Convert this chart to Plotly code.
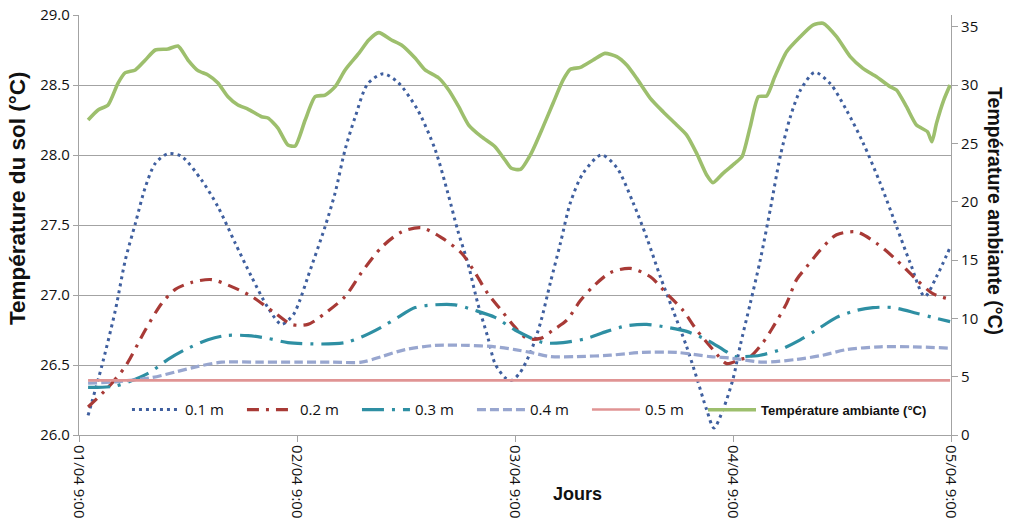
import plotly.graph_objects as go

# ---- data (hours since 01/04 9:00) ----
tick_hours = [0, 24, 48, 72, 96]
tick_labels = ["01/04 9:00", "02/04 9:00", "03/04 9:00", "04/04 9:00", "05/04 9:00"]

h_01 = [1.0, 2.5, 4.0, 5.1, 6.2, 7.3, 8.4, 9.8, 11.3, 13.5, 15.3, 17.2, 19.0, 20.8, 22.3, 23.6, 24.3, 25.2,
        27.1, 28.2, 29.3, 30.4, 31.8, 33.5, 35.1, 37.3, 39.2, 40.6, 41.7, 42.8, 43.9, 45.0, 45.8, 46.9,
        47.6, 48.5, 49.7, 50.8, 51.9, 53.0, 54.1, 55.5, 57.5, 59.2, 61.0, 62.5, 64.0, 65.4, 66.9, 68.0,
        69.1, 69.9, 70.9, 72.0, 72.8, 73.9, 75.0, 76.1, 77.2, 78.3, 79.4, 81.0, 82.7, 84.5, 86.3, 88.2,
        90.0, 91.5, 93.1, 94.4, 95.9]
t_01 = [26.14, 26.49, 26.89, 27.25, 27.51, 27.77, 27.94, 28.01, 27.99, 27.82, 27.63, 27.37, 27.13, 26.91,
        26.79, 26.86, 26.96, 27.13, 27.49, 27.73, 28.04, 28.27, 28.51, 28.58, 28.52, 28.32, 28.04, 27.73,
        27.46, 27.23, 26.94, 26.70, 26.51, 26.41, 26.39, 26.44, 26.59, 26.80, 27.09, 27.37, 27.66, 27.87,
        28.00, 27.91, 27.66, 27.41, 27.13, 26.89, 26.63, 26.41, 26.18, 26.05, 26.18, 26.40, 26.64, 26.94,
        27.25, 27.61, 27.99, 28.27, 28.46, 28.59, 28.51, 28.32, 28.09, 27.80, 27.49, 27.23, 26.99, 27.13,
        27.34]

h_02 = [1.0, 3.2, 5.1, 7.3, 9.1, 10.6, 12.4, 14.6, 16.8, 19.0, 21.6, 23.4, 25.2, 27.1, 29.3, 31.1, 33.3,
        35.5, 37.7, 39.9, 42.1, 43.6, 45.0, 46.5, 48.0, 49.3, 50.8, 52.2, 53.7, 55.2, 56.6, 58.5, 60.7,
        62.9, 64.7, 66.5, 68.0, 69.8, 71.3, 72.8, 73.9, 75.3, 76.4, 77.9, 79.0, 80.1, 81.6, 83.4, 85.6,
        87.8, 90.0, 92.2, 94.0, 95.9]
t_02 = [26.20, 26.34, 26.49, 26.75, 26.94, 27.04, 27.09, 27.11, 27.06, 26.99, 26.87, 26.79, 26.79, 26.87,
        26.99, 27.16, 27.34, 27.45, 27.48, 27.41, 27.30, 27.16, 27.01, 26.89, 26.77, 26.69, 26.69, 26.75,
        26.82, 26.96, 27.06, 27.16, 27.19, 27.13, 27.01, 26.89, 26.75, 26.61, 26.51, 26.54, 26.56, 26.66,
        26.77, 26.94, 27.11, 27.20, 27.32, 27.43, 27.45, 27.37, 27.25, 27.11, 27.01, 26.97]

h_03 = [1.0, 4.0, 7.6, 9.8, 11.7, 14.2, 16.1, 18.6, 20.8, 23.0, 26.7, 29.3, 31.1, 33.3, 35.1, 37.0, 39.2,
        41.4, 43.6, 45.8, 48.0, 51.1, 53.3, 55.9, 58.1, 60.3, 62.5, 64.7, 66.9, 69.1, 70.9, 72.2, 73.1,
        75.0, 77.2, 79.4, 81.2, 83.4, 85.6, 87.4, 89.6, 92.2, 94.0, 95.9]
t_03 = [26.34, 26.35, 26.44, 26.54, 26.61, 26.68, 26.71, 26.71, 26.69, 26.66, 26.65, 26.66, 26.70, 26.77,
        26.84, 26.91, 26.93, 26.93, 26.89, 26.84, 26.75, 26.66, 26.66, 26.69, 26.74, 26.78, 26.79, 26.77,
        26.74, 26.68, 26.61, 26.56, 26.56, 26.57, 26.61, 26.68, 26.75, 26.84, 26.89, 26.91, 26.91, 26.87,
        26.84, 26.81]

h_04 = [1.0, 4.0, 8.0, 10.6, 13.1, 15.7, 20.0, 24.3, 28.0, 31.1, 33.3, 35.9, 39.2, 42.8, 45.8, 48.0, 49.7,
        51.9, 54.8, 58.5, 62.1, 65.8, 69.5, 71.7, 72.8, 75.3, 79.0, 81.9, 84.5, 88.2, 91.8, 95.9]
t_04 = [26.37, 26.38, 26.41, 26.45, 26.49, 26.52, 26.52, 26.52, 26.52, 26.52, 26.56, 26.61, 26.64, 26.64,
        26.63, 26.61, 26.59, 26.56, 26.56, 26.57, 26.59, 26.59, 26.56, 26.55, 26.54, 26.52, 26.54, 26.57,
        26.61, 26.63, 26.63, 26.62]

h_05 = [1.0, 95.9]
t_05 = [26.39, 26.39]

h_amb = [1.0, 2.1, 3.2, 4.3, 5.1, 6.2, 7.3, 8.4, 9.8, 10.9, 12.0, 13.1, 14.2, 15.3, 16.4, 17.5, 18.6, 20.1,
         20.8, 21.9, 23.0, 23.8, 24.9, 26.0, 27.1, 28.2, 29.3, 30.8, 31.9, 33.0, 34.4, 35.5, 37.0, 38.1,
         39.6, 40.7, 41.8, 42.9, 44.3, 45.8, 46.9, 47.6, 48.6, 49.8, 51.1, 52.2, 53.3, 54.1, 55.2, 56.6,
         57.9, 59.2, 60.3, 61.4, 62.9, 64.3, 65.8, 66.9, 68.0, 69.1, 69.8, 70.9, 72.2, 73.0, 73.9, 74.8,
         75.7, 76.6, 77.9, 79.4, 80.8, 81.9, 83.4, 84.9, 86.3, 87.8, 89.3, 90.0, 91.1, 92.2, 93.4, 93.9,
         94.4, 95.2, 95.9]
t_amb = [27.0, 27.86, 28.29, 30.17, 31.06, 31.29, 32.14, 33.0, 33.09, 33.34, 32.14, 31.23, 30.86, 30.17,
         29.0, 28.29, 27.94, 27.28, 27.17, 26.31, 24.86, 24.77, 27.0, 29.0, 29.14, 29.86, 31.29, 32.71,
         33.86, 34.49, 33.86, 33.43, 32.31, 31.29, 30.6, 29.57, 28.14, 26.57, 25.57, 24.71, 23.57, 22.86,
         22.77, 24.17, 26.43, 28.46, 30.43, 31.34, 31.51, 32.14, 32.71, 32.43, 31.71, 30.57, 28.86, 27.71,
         26.57, 25.71, 24.14, 22.29, 21.63, 22.43, 23.29, 23.86, 26.43, 29.0, 29.06, 30.71, 32.86, 34.14,
         35.14, 35.29, 34.14, 32.43, 31.43, 30.71, 29.86, 29.57, 28.14, 26.57, 26.0, 25.14, 26.71, 28.71,
         30.0]

names = ["0.1 m", "0.2 m", "0.3 m", "0.4 m", "0.5 m"]
amb_name = "Température ambiante (°C)"

GRID = "#a3a3a3"
TXT = "#111111"

fig = go.Figure()
soil = [
    (h_01, t_01, names[0], dict(color="#3f5f9f", width=3, dash="3px,4px")),
    (h_02, t_02, names[1], dict(color="#a83a36", width=3.2, dash="12px,7px,3px,7px")),
    (h_03, t_03, names[2], dict(color="#2e8fa3", width=3.2, dash="22px,8px,3px,8px")),
    (h_04, t_04, names[3], dict(color="#98a6cf", width=3.2, dash="9px,4px")),
    (h_05, t_05, names[4], dict(color="#e09494", width=2.6)),
]
for hx, ty, nm, ln in soil:
    fig.add_trace(go.Scatter(x=hx, y=ty, name=nm, mode="lines", legend="legend",
                             line=dict(shape="spline", smoothing=0.8, **ln)))
fig.add_trace(go.Scatter(x=h_amb, y=t_amb, name=amb_name, mode="lines", yaxis="y2", legend="legend2",
                         line=dict(color="#9dbf6d", width=3.6, shape="spline", smoothing=0.6)))

fig.update_layout(
    width=1010, height=528,
    margin=dict(l=79, r=59, t=15, b=93),
    plot_bgcolor="white", paper_bgcolor="white",
    font=dict(family="Open Sans", size=15, color=TXT),
    showlegend=True,
    legend=dict(orientation="h", x=0.055, xanchor="left", y=0.06, yanchor="middle",
                bgcolor="rgba(0,0,0,0)", font=dict(family="Open Sans", size=15, color=TXT),
                itemwidth=48, entrywidth=52),
    legend2=dict(orientation="h", x=0.7156, xanchor="left", y=0.06, yanchor="middle",
                 bgcolor="rgba(0,0,0,0)",
                 font=dict(family="Liberation Sans", size=13, color=TXT, weight="bold"),
                 itemwidth=48),
    xaxis=dict(range=[0, 96], tickvals=tick_hours, ticktext=tick_labels, tickangle=90, automargin=False,
               ticklabeloverflow="allow",
               showgrid=False, zeroline=False, showline=True, linecolor=GRID, linewidth=1.2,
               ticks="outside", ticklen=6, tickcolor=GRID,
               tickfont=dict(family="Open Sans", size=15, color=TXT)),
    yaxis=dict(range=[26, 29], tickvals=[26.0, 26.5, 27.0, 27.5, 28.0, 28.5, 29.0], tickformat=".1f",
               automargin=False, ticklabeloverflow="allow",
               showgrid=True, gridcolor=GRID, gridwidth=1.2, zeroline=False,
               showline=True, linecolor=GRID, linewidth=1.2, ticks="outside", ticklen=5, tickcolor=GRID,
               tickfont=dict(family="Open Sans", size=15, color=TXT)),
    yaxis2=dict(range=[0, 36], tickvals=[0, 5, 10, 15, 20, 25, 30, 35], overlaying="y", side="right",
                automargin=False, ticklabeloverflow="allow",
                showgrid=False, zeroline=False, showline=True, linecolor=GRID, linewidth=1.2,
                ticks="outside", ticklen=6, tickcolor=GRID,
                tickfont=dict(family="Open Sans", size=15, color=TXT)),
    annotations=[
        dict(text="<b>Température du sol (°C)</b>", xref="paper", yref="paper", x=-0.0711, y=0.564,
             xanchor="center", yanchor="middle",
             textangle=-90, showarrow=False, font=dict(family="Liberation Sans", size=22.5, color=TXT)),
        dict(text="<b>Température ambiante (°C)</b>", xref="paper", yref="paper", x=1.0505, y=0.533,
             xanchor="center", yanchor="middle",
             textangle=90, showarrow=False, font=dict(family="Liberation Sans", size=19.5, color=TXT)),
        dict(text="<b>Jours</b>", xref="paper", yref="paper", x=0.572, y=-0.140,
             xanchor="center", yanchor="middle",
             showarrow=False, font=dict(family="Liberation Sans", size=18, color=TXT)),
    ],
)

fig.write_html("out.html", config={"displayModeBar": False},
               post_script="document.body.style.margin='0';document.body.style.overflow='hidden';")
